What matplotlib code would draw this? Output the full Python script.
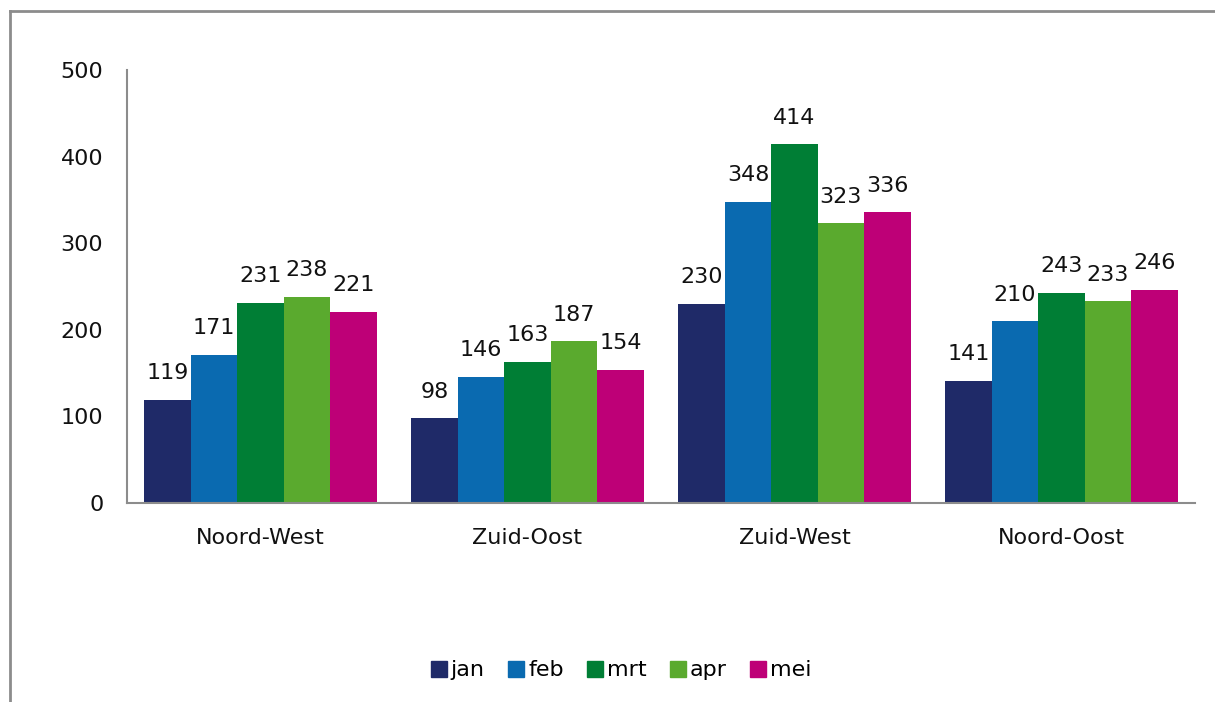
import matplotlib.pyplot as plt
import numpy as np
from matplotlib.lines import Line2D

regions = ["Noord-West", "Zuid-Oost", "Zuid-West", "Noord-Oost"]
months = ["jan", "feb", "mrt", "apr", "mei"]
values = {
    "jan": [119, 98, 230, 141],
    "feb": [171, 146, 348, 210],
    "mrt": [231, 163, 414, 243],
    "apr": [238, 187, 323, 233],
    "mei": [221, 154, 336, 246],
}
colors = ["#1F2A68", "#0A6AB0", "#007E35", "#5AAA2E", "#BE0077"]

plt.rcParams['font.family'] = ['DejaVu Sans']

fig = plt.figure(figsize=(12.15, 7.02), dpi=100)
ax = fig.add_axes([0.1045, 0.2835, 0.879, 0.6168])

x = np.arange(len(regions))
w = 0.87 / len(months)
for i, m in enumerate(months):
    pos = x - 0.435 + w * (i + 0.5)
    bars = ax.bar(pos, values[m], width=w, color=colors[i], label=m)
    for b, v in zip(bars, values[m]):
        ax.text(b.get_x() + b.get_width() / 2, v + 19, str(v),
                ha="center", va="bottom", fontsize=16, color="#111111")

ax.set_xlim(-0.5, len(regions) - 0.5)
ax.set_ylim(0, 500)
ax.set_yticks([0, 100, 200, 300, 400, 500])
ax.set_xticks(x)
ax.set_xticklabels(regions)
ax.tick_params(axis="both", length=0, labelsize=16, colors="#111111")
ax.tick_params(axis="y", pad=17)
ax.tick_params(axis="x", pad=18)
for s in ["top", "right"]:
    ax.spines[s].set_visible(False)
for s in ["left", "bottom"]:
    ax.spines[s].set_color("#8c8c8c")
    ax.spines[s].set_linewidth(1.5)

handles = [Line2D([], [], marker="s", linestyle="none", markersize=11,
                  markerfacecolor=c, markeredgecolor=c) for c in colors]
fig.legend(handles, months, loc="center", bbox_to_anchor=(0.51, 0.045),
           ncol=5, frameon=False, fontsize=16, handletextpad=0.05,
           columnspacing=0.9, handlelength=1.0)

# outer frame (left and top edges)
fig.add_artist(Line2D([0.0085, 0.0085], [0.0, 0.984], color="#8c8c8c", lw=2,
                      transform=fig.transFigure))
fig.add_artist(Line2D([0.0085, 1.0], [0.984, 0.984], color="#8c8c8c", lw=2,
                      transform=fig.transFigure))

fig.savefig("out.png", dpi=100)
